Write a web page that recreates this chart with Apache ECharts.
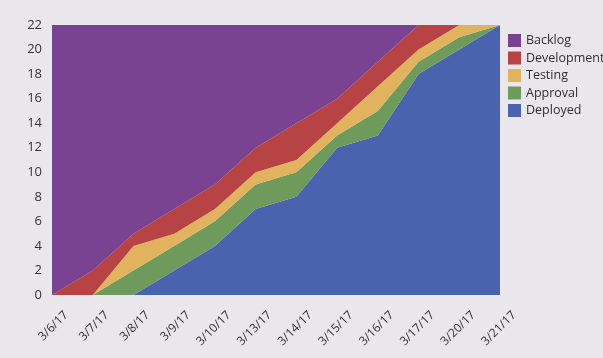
<!DOCTYPE html>
<html>
<head>
<meta charset="utf-8">
<script src="https://cdn.jsdelivr.net/npm/echarts@6/dist/echarts.min.js"></script>
<style>
    html, body { margin: 0; padding: 0; background: #e9e7ec; }
    #cfd { width: 603px; height: 358px; }
</style>
</head>
<body>
<div id="cfd"></div>
<script>
// cumulative flow, one value per day for each state
var days = ['3/6/17','3/7/17','3/8/17','3/9/17','3/10/17','3/13/17','3/14/17','3/15/17','3/16/17','3/17/17','3/20/17','3/21/17'];
var deployed    = [0, 0, 0, 2, 4, 7, 8, 12, 13, 18, 20, 22];
var approval    = [0, 0, 2, 2, 2, 2, 2, 1, 2, 1, 1, 0];
var testing     = [0, 0, 2, 1, 1, 1, 1, 1, 2, 1, 1, 0];
var development = [0, 2, 1, 2, 2, 2, 3, 2, 2, 2, 0, 0];
var backlog     = [22, 20, 17, 15, 13, 10, 8, 6, 3, 0, 0, 0];

var myChart = echarts.init(document.getElementById('cfd'));

function band(name, data, color) {
    return {
        name: name,
        type: 'line',
        stack: 'flow',
        data: data,
        showSymbol: false,
        lineStyle: {width: 0},
        areaStyle: {color: color, opacity: 1},
        itemStyle: {color: color}
    };
}

option = {
    animation: false,
    backgroundColor: '#e9e7ec',
    textStyle: {fontFamily: 'Open Sans'},
    legend: {
        orient: 'vertical',
        left: 503,
        top: 29,
        icon: 'rect',
        itemWidth: 13,
        itemHeight: 13,
        itemGap: 4.5,
        textStyle: {fontSize: 12.5, color: '#2e2e36'},
        data: ['Backlog', 'Development', 'Testing', 'Approval', 'Deployed']
    },
    grid: {left: 52, right: 103, top: 25, bottom: 63},
    xAxis: {
        type: 'category',
        boundaryGap: false,
        data: days,
        axisLine: {show: false},
        axisTick: {show: false},
        axisLabel: {
            rotate: 45, fontSize: 12, color: '#33333b', margin: 4, interval: 0,
            verticalAlign: 'top', padding: [14, 0, 0, 0]
        }
    },
    yAxis: {
        type: 'value',
        min: 0,
        max: 22,
        interval: 2,
        splitLine: {show: false},
        axisLine: {show: false},
        axisTick: {show: false},
        axisLabel: {fontSize: 13, color: '#33333b', margin: 10}
    },
    series: [
        band('Deployed', deployed, '#4a63ae'),
        band('Approval', approval, '#6e9b5c'),
        band('Testing', testing, '#e2b35e'),
        band('Development', development, '#b84345'),
        band('Backlog', backlog, '#7a4391')
    ]
};
myChart.setOption(option);
</script>
</body>
</html>
